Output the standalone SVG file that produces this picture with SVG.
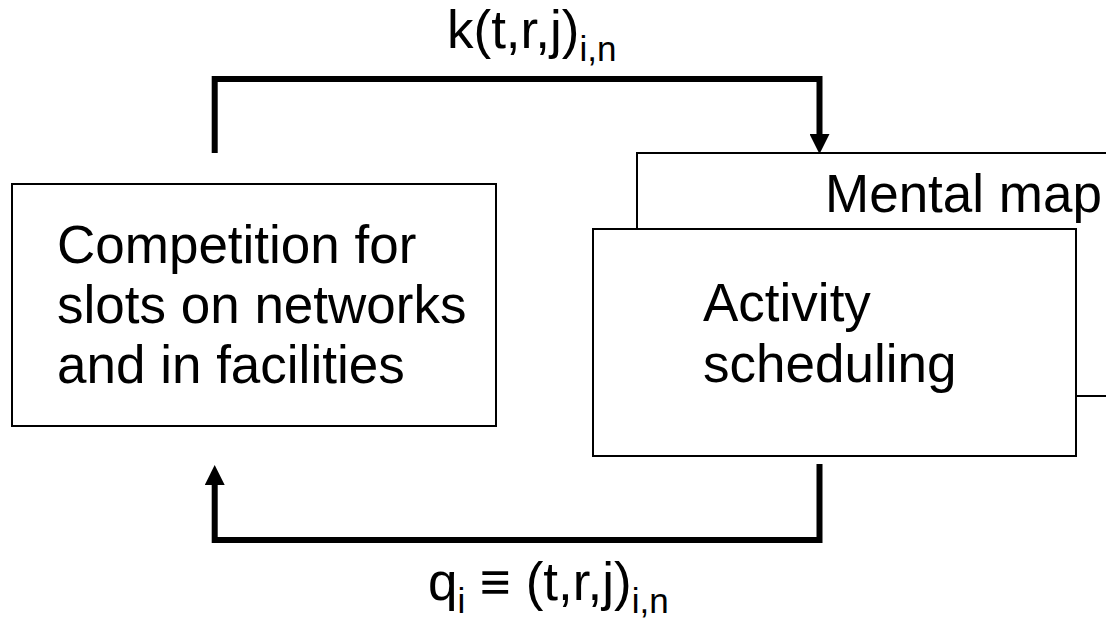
<svg xmlns="http://www.w3.org/2000/svg" width="1106" height="619" viewBox="0 0 1106 619">
<style>
.box{fill:#fff;stroke:#000;stroke-width:2}
.t{font-family:"Liberation Sans",Arial,sans-serif;font-size:53px;fill:#000}
.sub{font-size:35px}
.conn{fill:none;stroke:#000;stroke-width:6}
</style>
<defs>
<marker id="arr" markerUnits="userSpaceOnUse" markerWidth="20" markerHeight="20" refX="0" refY="10" orient="auto" viewBox="0 0 20 20">
<path d="M0,0 L20,10 L0,20 Z" fill="#000"/>
</marker>
</defs>
<rect width="1106" height="619" fill="#fff"/>
<g id="mental-map">
<rect class="box" x="637" y="153" width="480" height="243"/>
<text class="t" x="825" y="212">Mental map</text>
</g>
<g id="activity-scheduling">
<rect class="box" x="593" y="229" width="483" height="227"/>
<text class="t" x="703" y="321">Activity</text>
<text class="t" x="703" y="382">scheduling</text>
</g>
<g id="competition">
<rect class="box" x="12" y="184" width="484" height="242"/>
<text class="t" x="57" y="263">Competition for</text>
<text class="t" x="57" y="323">slots on networks</text>
<text class="t" x="57" y="383">and in facilities</text>
</g>
<g id="connectors">
<path class="conn" d="M214.7,153 V79 H819.5 V134" marker-end="url(#arr)"/>
<path class="conn" d="M819.5,464 V540 H214.7 V485" marker-end="url(#arr)"/>
</g>
<g id="labels">
<text class="t" x="447" y="48">k(t,r,j)<tspan class="sub" dy="13">i,n</tspan></text>
<text class="t" x="428" y="600">q<tspan class="sub" dy="13">i</tspan><tspan dy="-13"> ≡ (t,r,j)</tspan><tspan class="sub" dy="13">i,n</tspan></text>
</g>
</svg>
